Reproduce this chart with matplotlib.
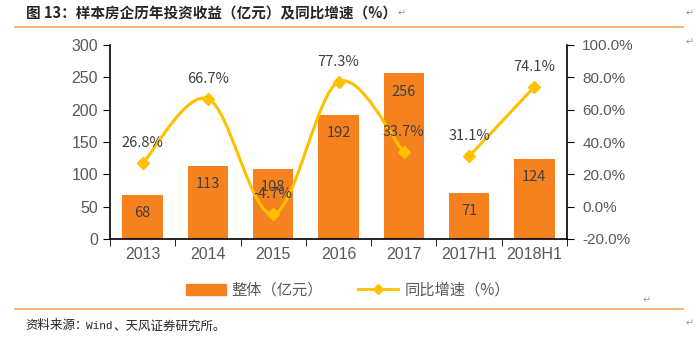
import numpy as np
import matplotlib
matplotlib.use("Agg")
import matplotlib.pyplot as plt
from matplotlib.path import Path
from matplotlib.patches import PathPatch, Patch
from matplotlib.lines import Line2D
from matplotlib.ticker import FuncFormatter

plt.rcParams['font.family'] = ['Noto Sans CJK SC', 'DejaVu Sans']

# data
categories = ['2013', '2014', '2015', '2016', '2017', '2017H1', '2018H1']
income = [68, 113, 108, 192, 256, 71, 124]
growth = [26.8, 66.7, -4.7, 77.3, 33.7, 31.1, 74.1]
segments = [(0, 5), (5, 7)]  # line broken between 2017 and 2017H1

bar_color = '#F5821F'
line_color = '#FFC000'
text_color = '#404040'
tick_color = '#595959'
tick_font = ['Liberation Sans', 'DejaVu Sans']

fig = plt.figure(figsize=(7, 3.4), dpi=100, facecolor='white')
ax = fig.add_axes((110/700, 1-239/340, 457/700, 194/340))
ax2 = ax.twinx()

x = np.arange(len(categories))
bars = ax.bar(x, income, width=0.62, color=bar_color, zorder=2)
ax.set_xlim(-0.5, len(categories)-0.5)
ax.set_ylim(0, 300)
ax.set_yticks(range(0, 301, 50))
ax.set_xticks(x)
ax.set_xticklabels(categories)
ax.set_xticks(np.arange(-0.5, len(categories)), minor=True)
ax.tick_params(axis='x', which='major', length=0, pad=6, labelsize=11.5, labelcolor=tick_color)
ax.tick_params(axis='x', which='minor', length=5, direction='out', color='black')
ax.tick_params(axis='y', length=5, direction='out', labelsize=11.5, labelcolor=tick_color)

for b, v in zip(bars, income):
    ax.annotate(str(v), (b.get_x() + b.get_width()/2, v), xytext=(0, -13),
                textcoords='offset points', ha='center', va='center',
                fontsize=10.5, color=text_color, zorder=5)

ax2.set_ylim(-20, 100)
ax2.set_yticks(range(-20, 101, 20))
ax2.yaxis.set_major_formatter(FuncFormatter(lambda v, p: f'{v:.1f}%'))
ax2.tick_params(axis='y', length=5, direction='out', pad=6, labelsize=11, labelcolor=tick_color)

for lab in ax.get_xticklabels() + ax.get_yticklabels() + ax2.get_yticklabels():
    lab.set_family(tick_font)


def smooth_path(xs, ys):
    # Excel-like smoothed line through the points (cubic bezier segments)
    pts = np.column_stack([xs, ys]).astype(float)
    verts = [pts[0]]
    codes = [Path.MOVETO]
    n = len(pts)
    for i in range(n - 1):
        p0 = pts[i-1] if i > 0 else pts[i]
        p1 = pts[i]
        p2 = pts[i+1]
        p3 = pts[i+2] if i + 2 < n else pts[i+1]
        c1 = p1 + (p2 - p0) / 6
        c2 = p2 - (p3 - p1) / 6
        verts += [c1, c2, p2]
        codes += [Path.CURVE4] * 3
    return Path(verts, codes)


for s, e in segments:
    ax2.add_patch(PathPatch(smooth_path(x[s:e], growth[s:e]), fill=False,
                            edgecolor=line_color, lw=2.2, zorder=3))
ax2.plot(x, growth, ls='none', marker='D', ms=6.5, color=line_color, zorder=4)

for xi, g in zip(x, growth):
    ax2.annotate(f'{g:.1f}%', (xi, g), xytext=(0, 14.5), textcoords='offset points',
                 ha='center', va='center', fontsize=10.5, color=text_color, zorder=5)

for a in (ax, ax2):
    a.spines['top'].set_visible(False)
    for sp in ('left', 'right', 'bottom'):
        a.spines[sp].set_color('black')
        a.spines[sp].set_linewidth(1.2)
ax.spines['right'].set_visible(False)
ax2.spines['left'].set_visible(False)
ax2.spines['bottom'].set_visible(False)

handles = [Patch(color=bar_color),
           Line2D([0], [0], color=line_color, lw=2, marker='D', ms=5)]
fig.legend(handles, ['整体（亿元）', '同比增速（%）'], loc='center',
           bbox_to_anchor=(0.497, 1-290/340), ncol=2, frameon=False,
           fontsize=11, labelcolor=tick_color, handlelength=2.6,
           columnspacing=2.3, handletextpad=0.4)

# title, source, rules
fig.text(26/700, 1-13/340, '图 13：样本房企历年投资收益（亿元）及同比增速（%）',
         fontsize=10.5, fontweight='bold', color='#262626', va='center')
fig.text(398/700, 1-13/340, '↵', fontsize=7, color='#999999', va='center')
fig.text(686/700, 1-13/340, '↵', fontsize=7, color='#999999', va='center')
fig.text(686/700, 1-42/340, '↵', fontsize=7, color='#999999', va='center')
fig.text(643/700, 1-300/340, '↵', fontsize=7, color='#999999', va='center')
fig.text(686/700, 1-323/340, '↵', fontsize=7, color='#999999', va='center')
fig.text(25/700, 1-326/340, '资料来源：', fontsize=9, color='#262626', va='center')
fig.text(86/700, 1-326/340, 'Wind', fontsize=8, color='#262626', va='center',
         family='Liberation Mono')
fig.text(113/700, 1-326/340, '、天风证券研究所。', fontsize=9, color='#262626', va='center')
fig.add_artist(Line2D([15/700, 683/700], [1-27/340, 1-27/340], color='#F0A860', lw=1.2))
fig.add_artist(Line2D([15/700, 683/700], [1-309/340, 1-309/340], color='#F0A860', lw=1.2))

fig.savefig('out.png', dpi=100, facecolor='white')
